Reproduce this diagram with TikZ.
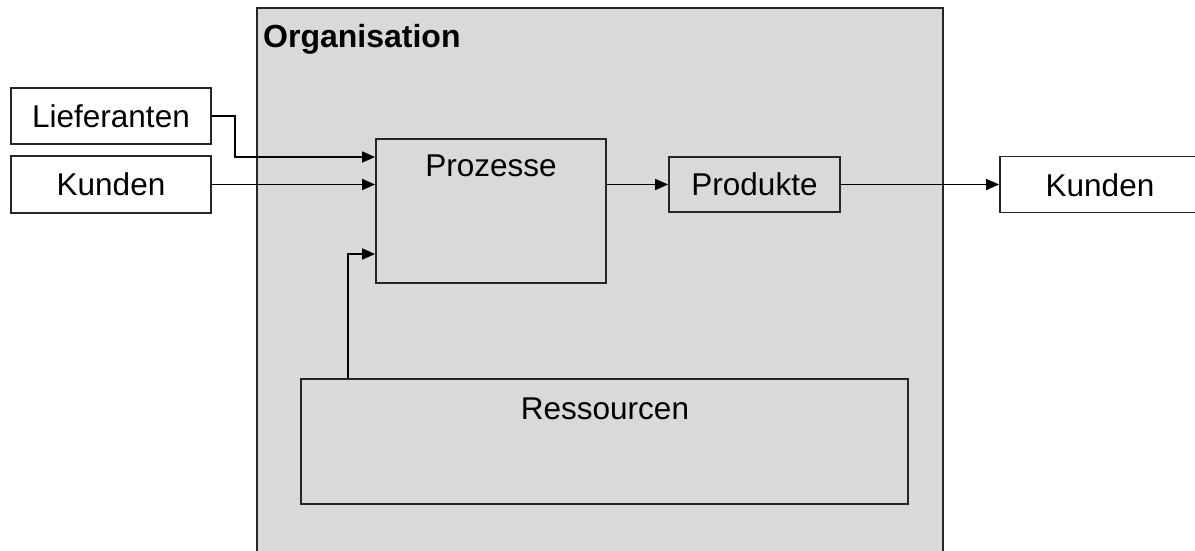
\documentclass[tikz,border=0pt]{standalone}
\usepackage{fontspec}
\setmainfont{Liberation Sans}
\usetikzlibrary{arrows.meta}
\definecolor{orggray}{HTML}{D9D9D9}
\definecolor{linecol}{HTML}{262626}
\begin{document}
\begin{tikzpicture}[x=1pt,y=-1pt,
  box/.style={draw=linecol,line width=1.8pt,rectangle,inner sep=0pt,font=\fontsize{31.5}{36}\selectfont},
  whitebox/.style={box,fill=white},
  arr/.style={draw=black,line width=1.7pt,-{Triangle[length=13pt,width=11pt]}},
  lbl/.style={font=\fontsize{31.5}{36}\selectfont,inner sep=0pt}
]
\useasboundingbox (0,0) rectangle (1195,551);
\begin{scope}
\clip (0,0) rectangle (1195,551);
\node[box,fill=orggray,minimum width=686pt,minimum height=600pt,anchor=north west] (org) at (256,7) {};
\node[whitebox,minimum width=200pt,minimum height=56pt] (kundR) at (1100,184.5) {};
\end{scope}
\node[lbl,anchor=base west,font=\fontsize{32}{36}\selectfont\bfseries] (orglbl) at (263,48) {Organisation};
\node[lbl,anchor=base] (kundRlbl) at (1100,196) {Kunden};

\node[whitebox,minimum width=200pt,minimum height=56pt] (lief) at (111,116) {Lieferanten};
\node[whitebox,minimum width=200pt,minimum height=57pt] (kundL) at (111,184.5) {Kunden};

\node[box,minimum width=230pt,minimum height=144pt] (proz) at (491,211) {};
\node[lbl,anchor=base] (prozlbl) at (491,176) {Prozesse};

\node[box,minimum width=171pt,minimum height=55pt] (prod) at (754.5,184.5) {Produkte};

\node[box,minimum width=607pt,minimum height=125pt] (ress) at (604.5,441.5) {};
\node[lbl,anchor=base] (resslbl) at (605,419) {Ressourcen};

\draw[arr] (lief.east) -- ++(23,0) |- ([yshift=54pt]proz.west);
\draw[arr] (kundL.east) -- (proz.west |- kundL.east);
\draw[arr] (proz.east |- prod.west) -- (prod.west);
\draw[arr] (prod.east) -- (kundR.west);
\draw[arr] ([xshift=-256.5pt]ress.north) |- ([yshift=-43pt]proz.west);
\end{tikzpicture}
\end{document}
